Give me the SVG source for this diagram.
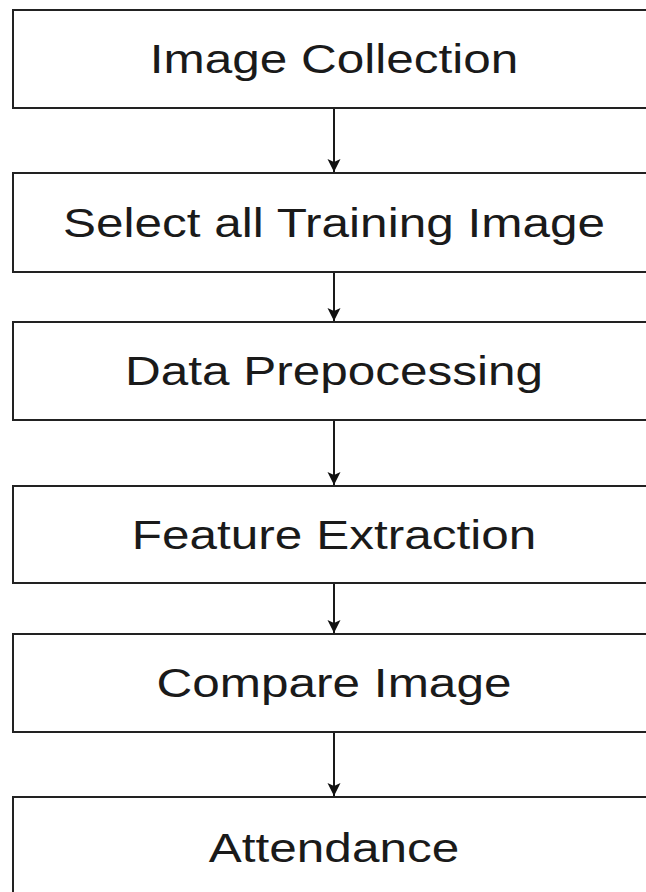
<svg xmlns="http://www.w3.org/2000/svg" width="646" height="892" viewBox="0 0 646 892">
  <style>
    .box { fill: #ffffff; stroke: #222222; stroke-width: 2; }
    .lbl { font-family: "Liberation Sans", Arial, sans-serif; font-size: 40px; fill: #1a1a1a; text-anchor: middle; }
    .edge { stroke: #1a1a1a; stroke-width: 2; fill: none; marker-end: url(#arrow); }
  </style>
  <defs>
    <marker id="arrow" viewBox="0 0 13 14" refX="13" refY="7" markerWidth="13" markerHeight="14" markerUnits="userSpaceOnUse" orient="auto">
      <path d="M0,0.5 L13,7 L0,13.5 L3,7 Z" fill="#111111"/>
    </marker>
  </defs>
  <rect width="646" height="892" fill="#ffffff"/>

  <g id="connectors">
    <line class="edge" x1="334" y1="109" x2="334" y2="172"/>
    <line class="edge" x1="334" y1="273" x2="334" y2="321"/>
    <line class="edge" x1="334" y1="421" x2="334" y2="485"/>
    <line class="edge" x1="334" y1="584" x2="334" y2="633"/>
    <line class="edge" x1="334" y1="733" x2="334" y2="796"/>
  </g>

  <g id="node-image-collection">
    <rect class="box" x="13" y="10" width="660" height="98"/>
    <text class="lbl" transform="translate(334,73) scale(1.2375,1)">Image Collection</text>
  </g>
  <g id="node-select-training">
    <rect class="box" x="13" y="173" width="660" height="99"/>
    <text class="lbl" transform="translate(334,237) scale(1.2375,1)">Select all Training Image</text>
  </g>
  <g id="node-data-preprocessing">
    <rect class="box" x="13" y="322" width="660" height="98"/>
    <text class="lbl" transform="translate(334,385) scale(1.2375,1)">Data Prepocessing</text>
  </g>
  <g id="node-feature-extraction">
    <rect class="box" x="13" y="486" width="660" height="97"/>
    <text class="lbl" transform="translate(334,549) scale(1.2375,1)">Feature Extraction</text>
  </g>
  <g id="node-compare-image">
    <rect class="box" x="13" y="634" width="660" height="98"/>
    <text class="lbl" transform="translate(334,697) scale(1.2375,1)">Compare Image</text>
  </g>
  <g id="node-attendance">
    <rect class="box" x="13" y="797" width="660" height="120"/>
    <text class="lbl" transform="translate(334,862) scale(1.2375,1)">Attendance</text>
  </g>
</svg>
